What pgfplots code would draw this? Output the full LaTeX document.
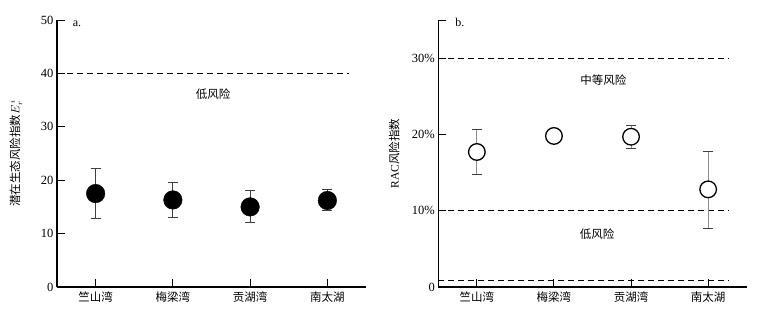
\documentclass[border=0pt]{standalone}
\usepackage{fontspec}
\setmainfont{Liberation Serif}
\newfontfamily\cjk{Noto Sans CJK SC}
\usepackage{pgfplots}
\pgfplotsset{compat=1.18}
\begin{document}
\begin{tikzpicture}[x=1pt,y=1pt]
\useasboundingbox (0,0) rectangle (760,319);
\pgfplotsset{
  myaxis/.style={
    scale only axis,
    width=309pt, height=267pt,
    axis x line*=bottom, axis y line*=left,
    axis line style={line width=1.2pt, -},
    tick align=inside,
    major tick length=8pt,
    tick style={line width=1pt, black},
    xmin=-0.5, xmax=3.5,
    xtick={0,1,2,3},
    xticklabels={竺山湾,梅梁湾,贡湖湾,南太湖},
    xticklabel style={font=\cjk\fontsize{11.5}{13}\selectfont, yshift=-1pt},
    yticklabel style={font=\fontsize{12.5}{13}\selectfont},
    /pgf/number format/assume math mode=true,
    clip=false,
  },
  ebar/.style={draw=none, mark=none, forget plot,
    error bars/.cd, y dir=both, y explicit,
    error bar style={draw=#1, line width=1pt},
    error mark options={rotate=90, mark size=5pt, draw=black!75, line width=1pt}},
  dline/.style={black, line width=1.1pt, dash pattern=on 6pt off 4pt},
}
% ---- panel a ----
\begin{axis}[myaxis, at={(57pt,32pt)}, anchor=south west,
  ymin=0, ymax=50, ytick={0,10,20,30,40,50},
  ylabel={\cjk 潜在生态风险指数\rmfamily$E_{r}^{\,i}$},
  ylabel style={at={(axis description cs:-0.133,0.5)}, anchor=center, font=\fontsize{11.5}{13}\selectfont},
]
\addplot[dline] coordinates {(-0.5,40) (3.28,40)};
\addplot[ebar=black!75] coordinates {
 (0,17.5) += (0,4.7) -= (0,4.6)
 (1,16.3) += (0,3.2) -= (0,3.25)
 (2,15.0) += (0,3.0) -= (0,2.9)
 (3,16.2) += (0,2.0) -= (0,1.9)
};
\addplot[only marks, mark=*, mark size=9.3pt, black] coordinates {
 (0,17.5) (1,16.3) (2,15.0) (3,16.2)};
\node[font=\cjk\fontsize{11.5}{13}\selectfont] at (axis cs:1.52,36.1) {低风险};
\node[font=\fontsize{12}{13}\selectfont] at (axis cs:-0.24,49.3) {a.};
\end{axis}
% ---- panel b ----
\begin{axis}[myaxis, at={(438.3pt,32pt)}, anchor=south west, width=308.4pt,
  ymin=0, ymax=35, ytick={0,10,20,30,35},
  yticklabels={0,10\%,20\%,30\%,{}},
  ylabel={RAC\cjk 风险指数},
  ylabel style={at={(axis description cs:-0.143,0.5)}, anchor=center, font=\fontsize{11.5}{13}\selectfont},
]
\addplot[dline] coordinates {(-0.5,30) (3.27,30)};
\addplot[dline] coordinates {(-0.5,10) (3.27,10)};
\addplot[dline] coordinates {(-0.5,0.9) (3.27,0.9)};
\addplot[ebar=black!45] coordinates {
 (0,17.7) += (0,2.9) -= (0,2.9)
 (1,19.8) += (0,0.4) -= (0,0.4)
 (2,19.7) += (0,1.5) -= (0,1.6)
 (3,12.8) += (0,4.9) -= (0,5.1)
};
\addplot[only marks, mark=*, mark size=8.3pt, black, line width=1.3pt, fill=white] coordinates {
 (0,17.7) (1,19.8) (2,19.7) (3,12.8)};
\node[font=\cjk\fontsize{11.5}{13}\selectfont] at (axis cs:1.64,27.1) {中等风险};
\node[font=\cjk\fontsize{11.5}{13}\selectfont] at (axis cs:1.56,6.9) {低风险};
\node[font=\fontsize{12}{13}\selectfont] at (axis cs:-0.22,34.7) {b.};
\end{axis}
\end{tikzpicture}
\end{document}
